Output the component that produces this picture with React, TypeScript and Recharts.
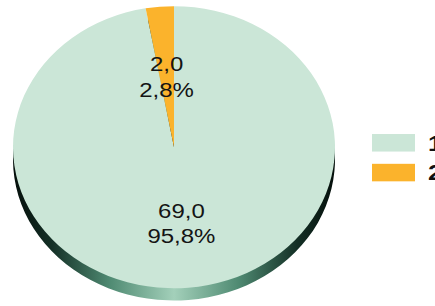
import { PieChart, Pie, Cell, Legend } from 'recharts'

const categories = ['1', '2']
const values = [69.0, 2.0]
const percentLabels = ['95,8%', '2,8%']
const COLORS = ['#cbe6d7', '#fbb32c']

const W = 435
const H = 350
const SQUASH = 0.876
const CX = 174
const CY = 168
const R = 161
const DEPTH = 14
const RADIAN = Math.PI / 180

const total = values.reduce((a, b) => a + b, 0)
const start = 90 + (360 * values[1]) / total

const pieData = categories.map((name, i) => ({ name, value: values[i] }))

const fmt = (v: number) => v.toFixed(1).replace('.', ',')

const renderLabel = (props: any) => {
  const { cx, cy, midAngle, outerRadius, index, value } = props
  const r = outerRadius * 0.52
  const x = cx + r * Math.cos(-midAngle * RADIAN)
  const y = cy + r * Math.sin(-midAngle * RADIAN) + 3
  return (
    <text
      x={x}
      y={y}
      textAnchor="middle"
      fill="#141414"
      fontSize={24}
      fontFamily="'Liberation Sans', Arial, sans-serif"
    >
      <tspan x={x} y={y - 6}>{fmt(value)}</tspan>
      <tspan x={x} y={y + 23}>{percentLabels[index]}</tspan>
    </text>
  )
}

const renderLegend = () => (
  <div>
    {categories.map((name, i) => (
      <div
        key={name}
        style={{ display: 'flex', alignItems: 'center', height: 34 }}
      >
        <div
          style={{
            width: 43,
            height: 20,
            background: COLORS[i],
            marginRight: 13,
          }}
        />
        <span
          style={{
            fontFamily: "'Liberation Sans', Arial, sans-serif",
            fontWeight: 'bold',
            fontSize: 26,
            color: '#111',
          }}
        >
          {name}
        </span>
      </div>
    ))}
  </div>
)

export default function App() {
  return (
    <div
      style={{
        position: 'absolute',
        left: 0,
        top: 0,
        width: W,
        height: H,
        background: '#fff',
        overflow: 'hidden',
        transform: `scaleY(${SQUASH})`,
        transformOrigin: '0 0',
      }}
    >
      <PieChart width={W} height={H} margin={{ top: 0, right: 0, bottom: 0, left: 0 }}>
        <defs>
          <linearGradient id="side" x1="0" y1="0" x2="1" y2="0">
            <stop offset="0%" stopColor="#050f0b" />
            <stop offset="12%" stopColor="#143026" />
            <stop offset="30%" stopColor="#4f8a72" />
            <stop offset="50%" stopColor="#a3d0ba" />
            <stop offset="70%" stopColor="#4f8a72" />
            <stop offset="88%" stopColor="#143026" />
            <stop offset="100%" stopColor="#050f0b" />
          </linearGradient>
        </defs>
        <Pie
          data={pieData}
          dataKey="value"
          cx={CX}
          cy={CY + DEPTH}
          outerRadius={R}
          startAngle={start}
          endAngle={start + 360}
          stroke="none"
          legendType="none"
          isAnimationActive={false}
        >
          {pieData.map((_, i) => (
            <Cell key={`side-${i}`} fill="url(#side)" />
          ))}
        </Pie>
        <Pie
          data={pieData}
          dataKey="value"
          cx={CX}
          cy={CY}
          outerRadius={R}
          startAngle={start}
          endAngle={start + 360}
          stroke="none"
          labelLine={false}
          label={renderLabel}
          isAnimationActive={false}
        >
          {pieData.map((_, i) => (
            <Cell key={`cell-${i}`} fill={COLORS[i]} />
          ))}
        </Pie>
        <Legend
          content={renderLegend}
          layout="vertical"
          wrapperStyle={{ position: 'absolute', left: 372, top: 146, width: 80 }}
        />
      </PieChart>
    </div>
  )
}
